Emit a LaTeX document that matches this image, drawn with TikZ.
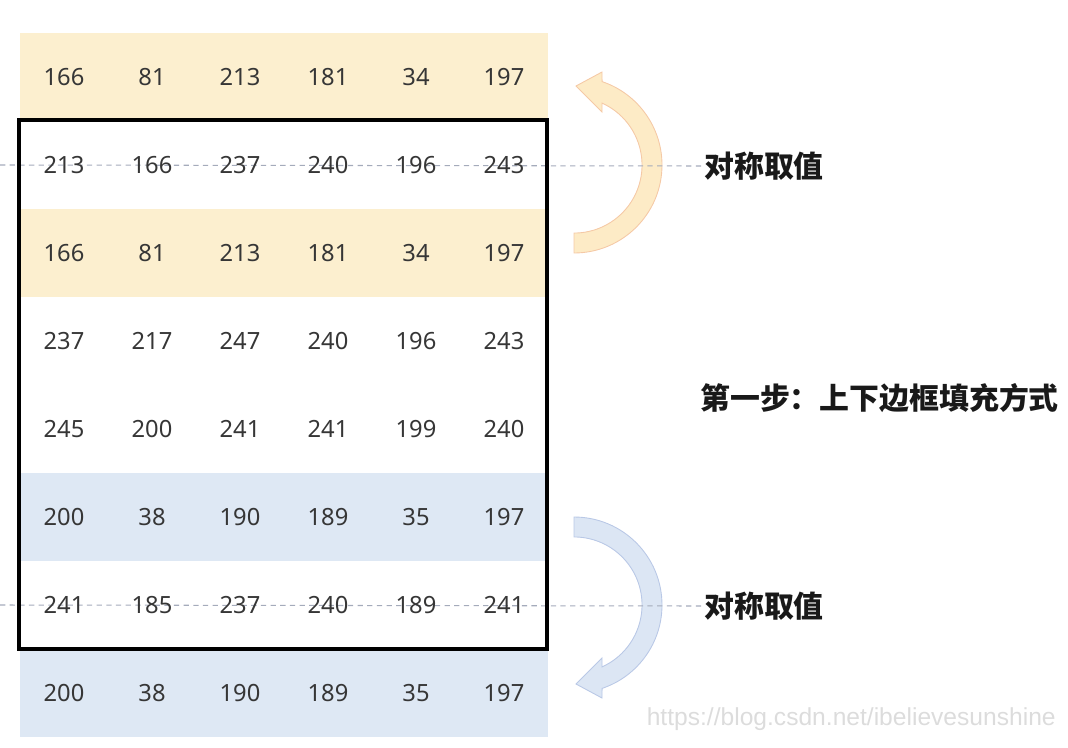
\documentclass[tikz,border=0pt]{standalone}
\usepackage{fontspec}
\setmainfont{Noto Sans}
\newfontfamily\cjk{Noto Sans CJK SC}
\newfontfamily\wmfont{Liberation Sans}
\usetikzlibrary{positioning}
\definecolor{rowyellow}{HTML}{FCEFCF}
\definecolor{rowblue}{HTML}{DEE8F4}
\definecolor{arrowyellow}{HTML}{FDEBC6}
\definecolor{arrowyellowline}{HTML}{F5C9A6}
\definecolor{arrowblue}{HTML}{DCE6F4}
\definecolor{arrowblueline}{HTML}{B9C8E6}
\definecolor{numgray}{HTML}{363636}
\definecolor{guidegray}{HTML}{A4ABBB}
\definecolor{wmgray}{HTML}{DCDCDC}

\begin{document}
\begin{tikzpicture}[x=0.02cm, y=0.02cm,
    band/.style={rectangle, draw=none, minimum width=10.56cm, minimum height=1.76cm, inner sep=0pt},
    cell/.style={font=\fontsize{13.5}{16}\selectfont, text=numgray, inner sep=0pt},
    frame/.style={rectangle, draw, line width=2.3pt, minimum width=10.56cm, minimum height=10.58cm, inner sep=0pt},
    note/.style={font=\cjk\bfseries\fontsize{17}{20}\selectfont, text=black!90, anchor=west, inner sep=0pt},
    guideline/.style={draw=guidegray, dash pattern=on 3pt off 2.5pt, line width=0.6pt}
]
\useasboundingbox (0,0) rectangle (1068,-747);
% Padding rows and the rows they mirror
\node[band, fill=rowyellow] (pad top) at (284,-77) {};
\node[band, fill=rowyellow] (src top) at (284,-253) {};
\node[band, fill=rowblue] (src bottom) at (284,-517) {};
\node[band, fill=rowblue] (pad bottom) at (284,-693) {};
% Curved arrows
\draw[fill=arrowyellow, draw=arrowyellowline, line width=0.5pt] (574,-253) arc[start angle=-90, end angle=71.4, radius=88]
    -- (602,-72) -- (576,-86) -- (602,-112) -- (602,-103.1) arc[start angle=65.7, end angle=-90, radius=68] -- cycle;
\draw[fill=arrowblue, draw=arrowblueline, line width=0.5pt] (574,-517) arc[start angle=90, end angle=-71.4, radius=88]
    -- (602,-698) -- (576,-684) -- (602,-658) -- (602,-666.9) arc[start angle=-65.7, end angle=90, radius=68] -- cycle;
% Labels
\node[note] (sym top) at (704,-166) {对称取值};
\node[note] (sym bottom) at (704,-606) {对称取值};
\node[note] (step) at (700,-398) {第一步：上下边框填充方式};
% Mirror axes
\coordinate (axis top) at (0,-165);
\coordinate (axis bottom) at (0,-605);
\draw[guideline] (axis top) -- (sym top.west);
\draw[guideline] (axis bottom) -- (sym bottom.west);
% Pixel values
\foreach \vals [count=\r from 0] in {{166,81,213,181,34,197},{213,166,237,240,196,243},
    {166,81,213,181,34,197},{237,217,247,240,196,243},{245,200,241,241,199,240},
    {200,38,190,189,35,197},{241,185,237,240,189,241},{200,38,190,189,35,197}}
  \foreach \v [count=\c from 0] in \vals
    \node[cell] (n\r\c) at (64+88*\c, -77-88*\r) {\v};
% Original image border
\node[frame] (image) at (283,-384.5) {};
\node[font=\wmfont\fontsize{14}{16}\selectfont, text=wmgray, anchor=east, inner sep=0pt] (mark) at (1056,-719) {https://blog.csdn.net/ibelievesunshine};
\end{tikzpicture}
\end{document}
